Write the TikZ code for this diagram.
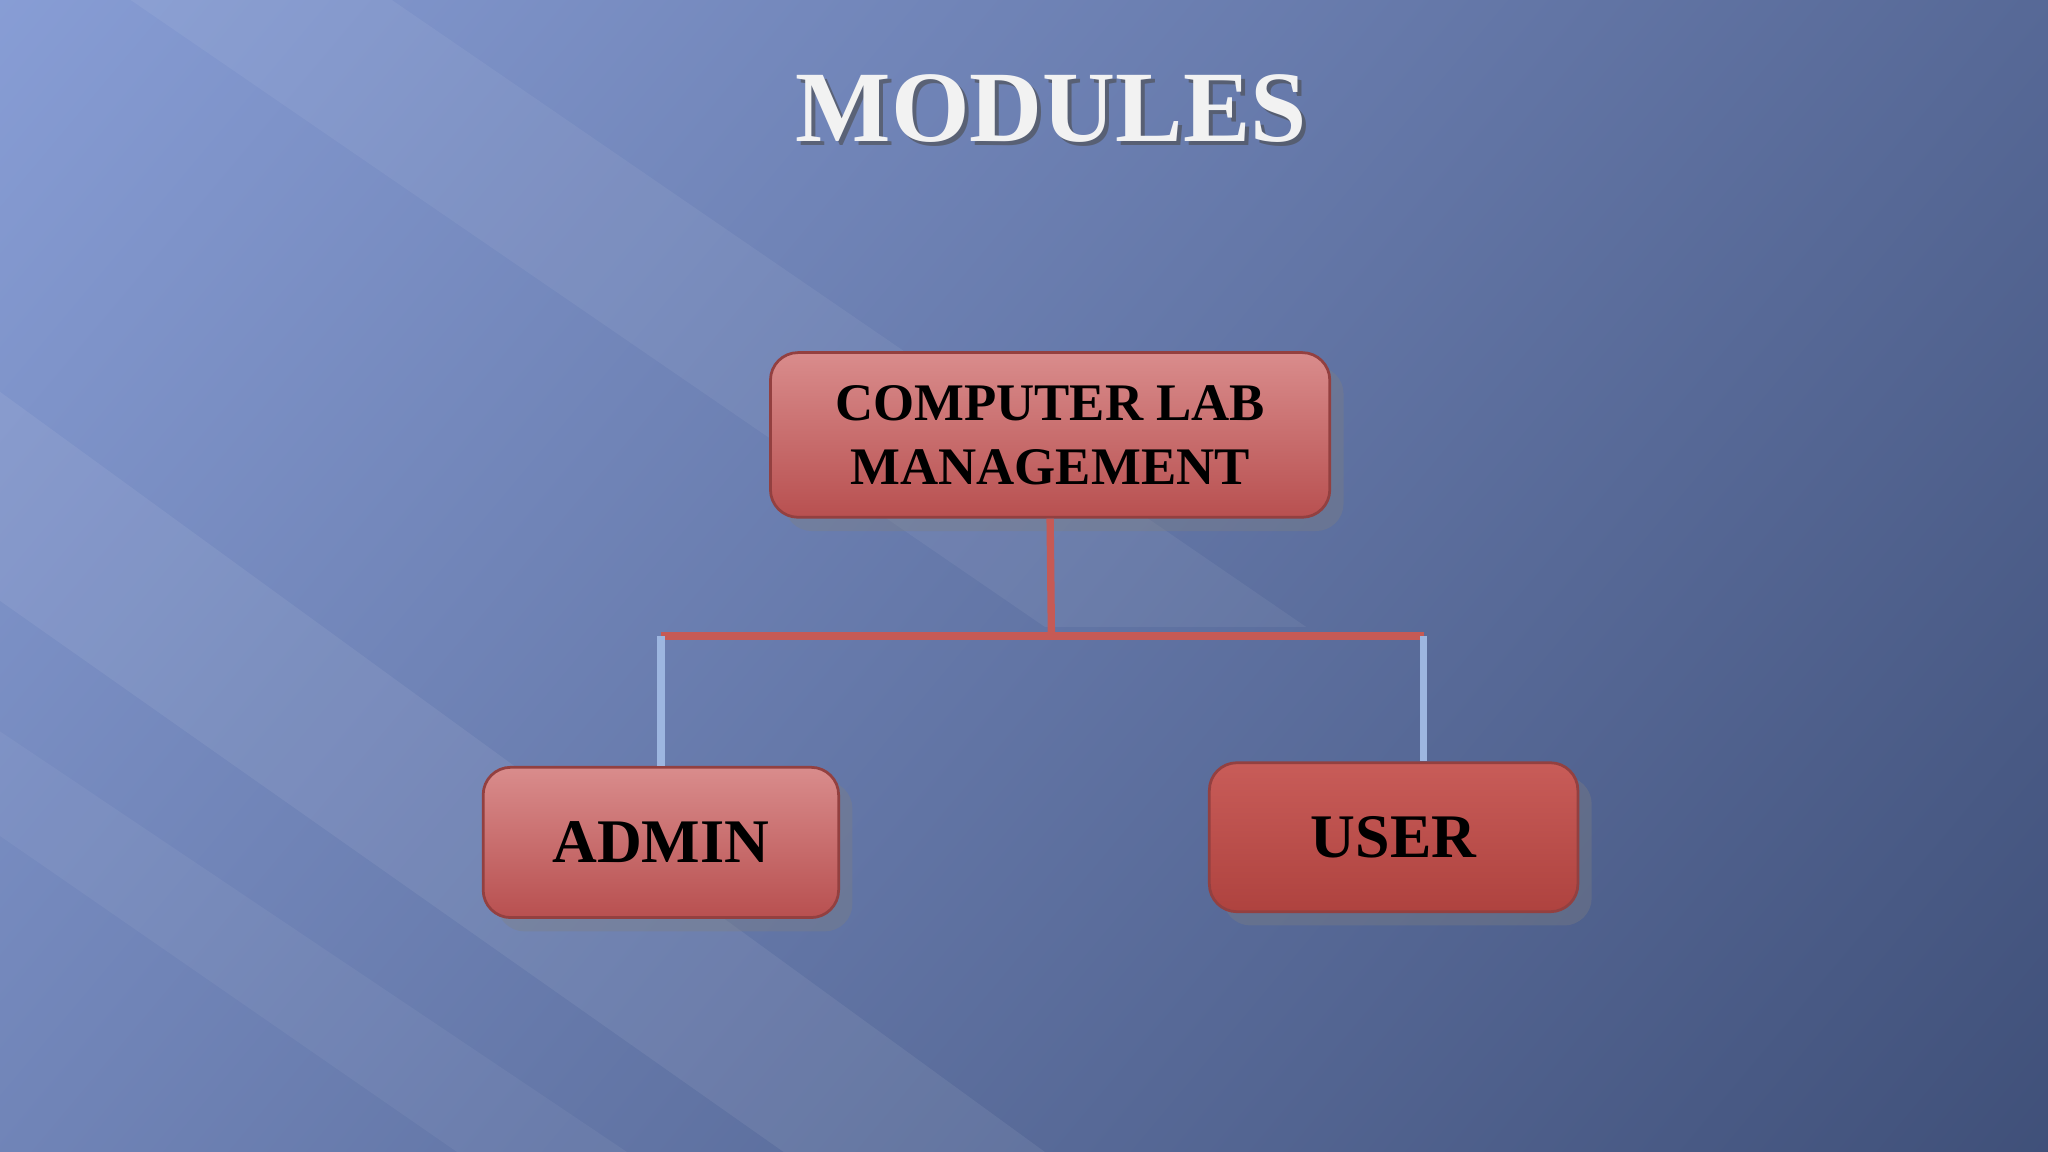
\documentclass[tikz,border=0pt]{standalone}
\usepackage{fontspec}
\setmainfont{Liberation Serif}[BoldFont={Liberation Serif Bold}]
\usetikzlibrary{shadows,calc}
\definecolor{bgl}{HTML}{8DA3DC}
\definecolor{bgd}{HTML}{3A4A72}
\definecolor{boxl}{HTML}{D98C8C}
\definecolor{boxd}{HTML}{B85050}
\definecolor{usr}{HTML}{C24A46}
\definecolor{linkred}{HTML}{C65A55}
\definecolor{linkblue}{HTML}{9DB6E0}
\tikzset{
 mbox/.style={rectangle, rounded corners=6pt, draw=boxd!80!black, line width=0.6pt,
   top color=boxl, bottom color=boxd, align=center, font=\bfseries,
   drop shadow={shadow xshift=3pt, shadow yshift=-3pt, opacity=0.35}},
}
\begin{document}
\begin{tikzpicture}[x=0.01cm,y=-0.01cm]
\useasboundingbox (0,0) rectangle (1568,882);
\shade[shading=axis, left color=bgl, right color=bgd, shading angle=50] (-400,-400) rectangle (1968,1282);
\begin{scope}
\clip (0,0) rectangle (1568,882);
\fill[white, opacity=0.07] (0,300) -- (0,460) -- (600,882) -- (800,882) -- cycle;
\fill[white, opacity=0.06] (100,0) -- (300,0) -- (1000,480) -- (800,480) -- cycle;
\fill[white, opacity=0.05] (0,560) -- (0,640) -- (350,882) -- (480,882) -- cycle;
\end{scope}
\node[font=\bfseries\fontsize{22}{28}\selectfont, text=black!70, opacity=0.6] at (808,86) {MODULES};
\node[font=\bfseries\fontsize{22}{28}\selectfont, text=white!90!gray] (title) at (805,83) {MODULES};
\node[mbox, minimum width=4.28cm, minimum height=1.26cm, font=\bfseries\fontsize{11.5}{14}\selectfont] (top) at (804,333) {COMPUTER LAB\\MANAGEMENT};
\node[mbox, minimum width=2.72cm, minimum height=1.15cm, font=\bfseries\fontsize{13.5}{17}\selectfont] (admin) at (506,645) {ADMIN};
\node[mbox, top color=usr!90!white, bottom color=usr!90!black, minimum width=2.82cm, minimum height=1.14cm, font=\bfseries\fontsize{13.5}{17}\selectfont] (user) at (1067,641) {USER};
\coordinate (hl) at (506,487);
\coordinate (hr) at (1090,487);
\coordinate (hm) at (805,487);
\draw[linkred, line width=1.6pt] (top.south) -- (hm);
\draw[linkred, line width=1.6pt] (hl) -- (hr);
\draw[linkblue, line width=1.6pt] (hl) -- (admin.north);
\draw[linkblue, line width=1.6pt] (hr) -- (hr |- user.north);
\end{tikzpicture}
\end{document}
